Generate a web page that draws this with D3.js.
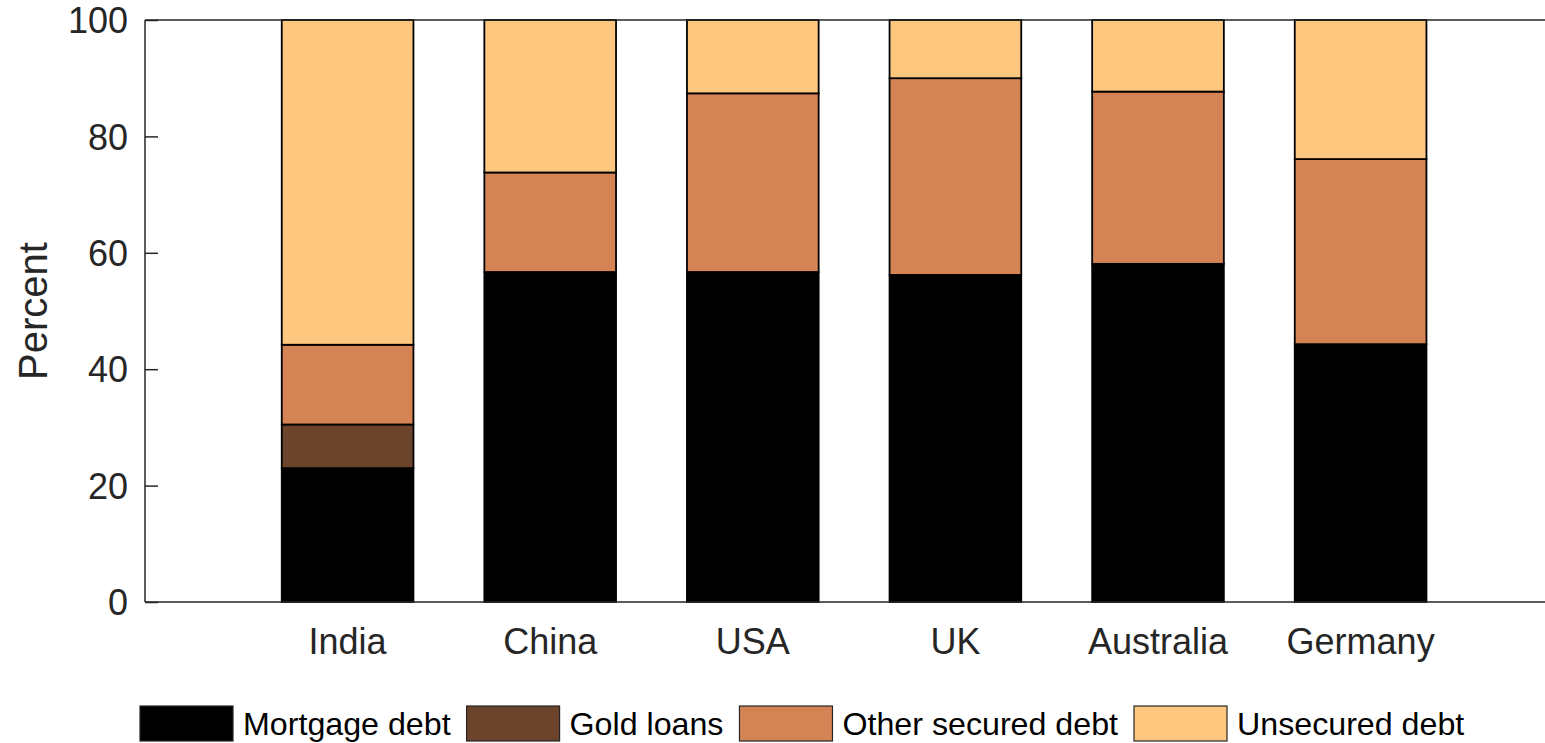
<!DOCTYPE html>
<html>
<head>
<meta charset="utf-8">
<script src="https://cdn.jsdelivr.net/npm/d3@7"></script>
<style>
  body { margin: 0; background: #fff; }
  svg { display: block; font-family: "Liberation Sans", Arial, sans-serif; }
</style>
</head>
<body>
<div id="chart"></div>
<script>
// data (percent of household debt)
var countries = ["India", "China", "USA", "UK", "Australia", "Germany"];
var seriesNames = ["Mortgage debt", "Gold loans", "Other secured debt", "Unsecured debt"];
var mortgage  = [23.0, 56.7, 56.7, 56.2, 58.1, 44.3];
var gold      = [7.5, 0, 0, 0, 0, 0];
var otherSec  = [13.7, 17.1, 30.7, 33.8, 29.6, 31.8];
var unsecured = [55.8, 26.2, 12.6, 10.0, 12.3, 23.9];
var yTicks = [0, 20, 40, 60, 80, 100];
var colors = ["#000000", "#6c432b", "#d48454", "#fec77f"];

var W = 1545, H = 743;
var plotLeft = 145, plotTop = 20, plotBottom = 602;
var step = 202.6;

var svg = d3.select("#chart").append("svg")
    .attr("width", W)
    .attr("height", H);

// build rows for d3.stack
var rows = countries.map(function(c, i) {
  return {country: c, "Mortgage debt": mortgage[i], "Gold loans": gold[i],
          "Other secured debt": otherSec[i], "Unsecured debt": unsecured[i]};
});
var stacked = d3.stack().keys(seriesNames)(rows);

var x = d3.scaleBand()
    .domain(countries)
    .range([plotLeft + step * 0.5, plotLeft + step * 6.5])
    .paddingInner(0.35)
    .paddingOuter(0.175);

var y = d3.scaleLinear().domain([0, 100]).range([plotBottom, plotTop]);

// bars
svg.append("g").selectAll("g")
  .data(stacked)
  .enter().append("g")
    .attr("fill", function(d, i) { return colors[i]; })
  .selectAll("rect")
  .data(function(d) { return d; })
  .enter().append("rect")
    .attr("x", function(d) { return x(d.data.country); })
    .attr("y", function(d) { return y(d[1]); })
    .attr("width", x.bandwidth())
    .attr("height", function(d) { return y(d[0]) - y(d[1]); })
    .attr("stroke", "#000")
    .attr("stroke-width", 1.8);

// y axis, ticks pointing inward
var yAxis = svg.append("g")
    .attr("transform", "translate(" + plotLeft + ",0)")
    .call(d3.axisRight(y).tickValues(yTicks).tickSize(13).tickFormat(d3.format("d")));
yAxis.select(".domain").remove();
yAxis.selectAll(".tick line").attr("stroke", "#262626").attr("stroke-width", 1.5);
yAxis.selectAll(".tick text")
    .attr("x", -17)
    .attr("text-anchor", "end")
    .attr("dy", "0.35em")
    .attr("fill", "#262626")
    .style("font-size", "36px");

// x axis labels
var xAxis = svg.append("g")
    .attr("transform", "translate(0," + plotBottom + ")")
    .call(d3.axisBottom(x).tickSize(0).tickPadding(0));
xAxis.select(".domain").remove();
xAxis.selectAll(".tick text")
    .attr("y", 52)
    .attr("dy", 0)
    .attr("fill", "#262626")
    .style("font-size", "36px");

// frame lines
svg.append("line").attr("x1", plotLeft).attr("x2", plotLeft).attr("y1", plotTop).attr("y2", plotBottom)
    .attr("stroke", "#262626").attr("stroke-width", 1.5);
svg.append("line").attr("x1", plotLeft).attr("x2", W).attr("y1", plotBottom).attr("y2", plotBottom)
    .attr("stroke", "#262626").attr("stroke-width", 1.5);
svg.append("line").attr("x1", plotLeft).attr("x2", W).attr("y1", plotTop).attr("y2", plotTop)
    .attr("stroke", "#262626").attr("stroke-width", 1.5);

// y label
svg.append("text")
    .attr("transform", "translate(47," + ((plotTop + plotBottom) / 2) + ") rotate(-90)")
    .attr("text-anchor", "middle")
    .attr("fill", "#262626")
    .style("font-size", "40px")
    .text("Percent");

// legend
var lx = 140;
var legend = svg.append("g");
seriesNames.forEach(function(name, i) {
  legend.append("rect")
      .attr("x", lx).attr("y", 706)
      .attr("width", 93).attr("height", 35)
      .attr("fill", colors[i])
      .attr("stroke", "#262626").attr("stroke-width", 1.2);
  var t = legend.append("text")
      .attr("x", lx + 103).attr("y", 735)
      .attr("fill", "#000")
      .style("font-size", "32.2px")
      .text(name);
  lx = lx + 103 + t.node().getComputedTextLength() + 16;
});
</script>
</body>
</html>
